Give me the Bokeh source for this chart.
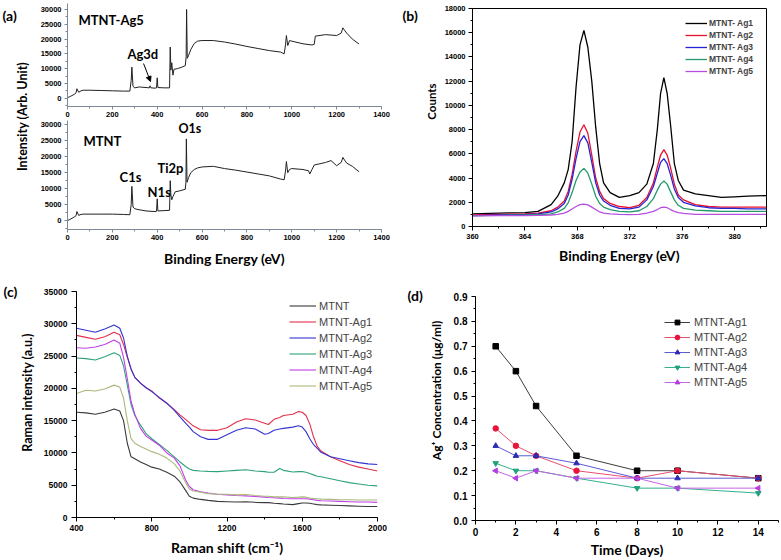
import math
from bokeh.plotting import figure
from bokeh.models import (Range1d, Label, Arrow, NormalHead, Legend, LegendItem,
                          SingleIntervalTicker, PrintfTickFormatter)
from bokeh.layouts import row, column
from bokeh.embed import file_html
from bokeh.resources import INLINE

# ---------------- data ----------------
# (a) XPS survey spectra
a_top_x = [0, 10, 20, 30, 38, 42, 50, 60, 70, 100, 150, 200, 250, 278, 284, 287, 292, 300, 320, 350,
           365, 368, 372, 390, 397, 400, 403, 430, 455, 458, 461, 465, 470, 475, 490, 510, 525, 529, 531, 534,
           540, 550, 565, 580, 600, 650, 700, 750, 800, 850, 900, 950, 966, 972, 976, 982, 990, 1000, 1050, 1090,
           1100, 1105, 1150, 1200, 1220, 1228, 1232, 1245, 1270, 1300]
a_top_y = [200, 500, 900, 1300, 1800, 3200, 2000, 2500, 2700, 2700, 2600, 2500, 2400, 2400, 6000, 10500, 4000, 3500, 3800, 3600,
           3500, 4200, 3500, 3400, 3500, 6900, 3600, 3500, 3500, 17300, 9500, 12000, 7800, 9800, 10000, 10500, 11000, 14000, 30000, 13500,
           14500, 16500, 18500, 19300, 19500, 19500, 19000, 18300, 17500, 16800, 16100, 15600, 15000, 18000, 21200, 17800, 19500, 19300, 18400, 18000,
           18200, 21000, 21500, 21200, 22000, 23800, 23300, 22000, 20000, 18300]
a_bot_x = [0, 10, 20, 30, 38, 42, 50, 60, 70, 100, 150, 200, 250, 278, 284, 287, 292, 300, 310, 350,
           390, 397, 400, 403, 430, 455, 458, 461, 465, 470, 480, 500, 525, 528, 530, 533, 540, 550, 565, 580,
           600, 650, 700, 750, 800, 850, 900, 950, 966, 972, 976, 982, 990, 1000, 1050, 1075, 1080, 1090, 1100, 1150,
           1175, 1200, 1220, 1228, 1232, 1245, 1270, 1300]
a_bot_y = [0, 300, 700, 1100, 1500, 2800, 1600, 1900, 2000, 2000, 2000, 2000, 1900, 1800, 5000, 10700, 4200, 3700, 3500, 3000,
           2800, 2900, 6800, 3000, 3100, 3200, 12500, 8000, 6500, 7500, 9000, 9300, 9800, 12000, 25600, 12000, 13500, 15000, 16000, 16500,
           16800, 17000, 16300, 15800, 15200, 14600, 14000, 13000, 12800, 15500, 18500, 15000, 16000, 16300, 16000, 15600, 14600, 16000, 17400, 18200,
           18800, 17200, 18200, 19800, 19300, 18000, 17000, 15300]

# (b) Ag3d high-resolution spectra
b_x = [360, 362, 364, 365, 366, 366.5, 367, 367.3, 367.6, 367.9, 368.2, 368.5, 368.8, 369.1, 369.4, 369.7, 370.0, 370.5,
       371.2, 372.0, 372.7, 373.3, 373.8, 374.1, 374.35, 374.6, 374.85, 375.1, 375.4, 375.7, 376.1, 377.0, 378.0, 379.0,
       380.0, 381.0, 382.4]
b_names = ["MTNT- Ag1", "MTNT- Ag2", "MTNT- Ag3", "MTNT- Ag4", "MTNT- Ag5"]
b_ag1 = [1050, 1100, 1150, 1250, 1800, 2500, 3600, 4700, 7000, 11500, 15000, 16200, 14800, 12000, 8200, 5200, 3600, 2800,
         2400, 2550, 2800, 3500, 5200, 8000, 11000, 12300, 11000, 8500, 5200, 3800, 3000, 2700, 2550, 2400, 2450, 2500, 2550]
b_ag2 = [950, 1000, 1050, 1100, 1300, 1600, 2100, 2900, 4300, 6200, 7800, 8400, 7700, 5900, 4000, 2900, 2300, 1900,
         1650, 1550, 1750, 2400, 3600, 4900, 5900, 6350, 5900, 4900, 3500, 2600, 2200, 1800, 1650, 1600, 1600, 1600, 1600]
b_ag3 = [900, 950, 1000, 1050, 1200, 1450, 1900, 2600, 3900, 5600, 7000, 7500, 6900, 5300, 3600, 2600, 2100, 1750,
         1500, 1450, 1600, 2200, 3300, 4400, 5300, 5600, 5200, 4300, 3100, 2400, 2000, 1700, 1550, 1500, 1500, 1450, 1450]
b_ag4 = [900, 920, 950, 970, 1050, 1200, 1500, 1950, 2800, 3800, 4500, 4800, 4400, 3500, 2500, 1900, 1600, 1400,
         1250, 1200, 1300, 1650, 2300, 3000, 3500, 3750, 3500, 2900, 2200, 1750, 1500, 1350, 1300, 1250, 1250, 1250, 1250]
b_ag5 = [880, 900, 900, 920, 950, 1000, 1100, 1250, 1450, 1650, 1800, 1850, 1780, 1600, 1400, 1200, 1100, 1050,
         1000, 980, 1000, 1100, 1250, 1400, 1550, 1600, 1550, 1400, 1250, 1150, 1080, 1000, 1000, 1000, 1000, 1000, 1000]

# (c) Raman spectra
c_x = [400, 450, 500, 550, 600, 630, 650, 670, 690, 710, 740, 770, 800, 840, 880, 920, 950, 980, 1000, 1020,
       1060, 1100, 1150, 1200, 1250, 1300, 1350, 1400, 1420, 1450, 1480, 1500, 1550, 1580, 1600, 1620, 1640, 1660,
       1680, 1700, 1750, 1800, 1850, 1900, 1950, 2000]
c_names = ["MTNT", "MTNT-Ag1", "MTNT-Ag2", "MTNT-Ag3", "MTNT-Ag4", "MTNT-Ag5"]
c_mtnt = [16300, 16200, 16000, 16300, 16800, 16500, 15000, 11500, 9400, 9100, 8600, 8200, 7800, 7500, 7000, 6400, 5500, 4200, 3300, 3000,
          2800, 2650, 2500, 2450, 2400, 2450, 2350, 2300, 2300, 2200, 2150, 2100, 2000, 2150, 2250, 2250, 2200, 2100,
          2000, 1950, 1900, 1850, 1800, 1750, 1700, 1700]
c_ag1 = [28200, 27900, 27600, 28000, 28700, 28300, 26800, 24800, 23000, 21700, 20800, 20100, 19600, 18500, 17700, 16700, 15900, 15200, 14700, 14200,
         13600, 13500, 13500, 13900, 14800, 15300, 15100, 14600, 14400, 15200, 15500, 15800, 16000, 16400, 16300, 15800, 14500, 12500,
         11000, 10300, 9400, 8800, 8200, 7800, 7500, 7200]
c_ag2 = [29300, 29000, 28700, 29200, 29800, 29300, 27800, 25000, 23000, 21700, 20800, 20100, 19500, 18600, 17700, 16600, 15600, 14600, 14000, 13300,
         12500, 12100, 12100, 12800, 13500, 13900, 13700, 12900, 13000, 13500, 13700, 13800, 14000, 14200, 14000, 13300, 12200, 11300,
         10700, 10100, 9400, 9100, 8800, 8500, 8300, 8200]
c_ag3 = [24700, 24600, 24400, 24900, 25500, 25100, 23500, 20500, 17500, 15800, 14300, 13000, 12200, 11300, 10400, 9400, 8600, 7900, 7500, 7300,
         7200, 7150, 7100, 7200, 7300, 7400, 7200, 7100, 7000, 7000, 7600, 7300, 7050, 7100, 7100, 7000, 6800, 6600,
         6400, 6300, 6000, 5700, 5400, 5200, 5000, 4900]
c_ag4 = [26300, 26200, 26400, 26800, 27500, 27000, 24800, 21500, 18000, 16000, 13800, 12600, 12000, 11200, 10000, 9200, 8000, 5800, 4800, 4300,
         4000, 3800, 3600, 3500, 3400, 3350, 3250, 3150, 3100, 3050, 3000, 2950, 2900, 2900, 2900, 2900, 2850, 2750,
         2650, 2600, 2550, 2500, 2450, 2400, 2400, 2350]
c_ag5 = [19200, 19700, 19600, 19900, 20500, 20200, 18500, 15000, 12200, 11500, 11000, 10600, 10200, 9800, 9200, 8300, 7200, 5400, 4400, 4100,
         3900, 3700, 3600, 3600, 3500, 3550, 3400, 3300, 3300, 3200, 3200, 3200, 3100, 3150, 3200, 3150, 3000, 2950,
         2900, 2850, 2800, 2750, 2750, 2700, 2700, 2700]

# (d) Ag+ release
d_days = [1, 2, 3, 5, 8, 10, 14]
d_names = ["MTNT-Ag1", "MTNT-Ag2", "MTNT-Ag3", "MTNT-Ag4", "MTNT-Ag5"]
d_ag1 = [0.70, 0.60, 0.46, 0.26, 0.20, 0.20, 0.17]
d_ag2 = [0.37, 0.30, 0.26, 0.20, 0.17, 0.20, 0.17]
d_ag3 = [0.30, 0.26, 0.26, 0.23, 0.17, 0.17, 0.17]
d_ag4 = [0.23, 0.20, 0.20, 0.17, 0.13, 0.13, 0.11]
d_ag5 = [0.20, 0.17, 0.20, 0.17, 0.17, 0.13, 0.13]

# ---------------- helpers ----------------
TICK_FONT = "Liberation Sans"
TITLE_FONT = "Lato"
LEG_FONT = "Liberation Sans"


def make_fig(w, h, xr, yr, bl, br, bt, bb, axes=True):
    kw = {}
    if not axes:
        kw = dict(x_axis_location=None, y_axis_location=None)
    p = figure(width=w, height=h, x_range=Range1d(*xr), y_range=Range1d(*yr),
               output_backend="svg", toolbar_location=None, title=None,
               min_border_left=bl, min_border_right=br, min_border_top=bt, min_border_bottom=bb, **kw)
    p.frame_align = False
    p.grid.grid_line_color = None
    p.outline_line_color = None
    p.border_fill_color = "white"
    p.background_fill_color = "white"
    return p


def strip(w):
    # blank text-only panel whose data units equal its pixels (y measured from the bottom)
    return make_fig(w, 280, (0, w), (0, 280), 0, 0, 0, 0, axes=False)


def style(ax, interval, nminor, size, color="black", out=4, standoff=3, label=None,
          lsize="14px", lstand=6, fmt=None):
    ax.ticker = SingleIntervalTicker(interval=interval, num_minor_ticks=nminor)
    ax.axis_line_color = color
    ax.major_tick_line_color = color
    ax.minor_tick_line_color = color
    ax.major_tick_out = out
    ax.major_tick_in = 0
    ax.minor_tick_out = 2
    ax.minor_tick_in = 0
    ax.major_label_text_font = TICK_FONT
    ax.major_label_text_font_size = size
    ax.major_label_text_font_style = "bold"
    ax.major_label_text_color = "black"
    ax.major_label_standoff = standoff
    if fmt is not None:
        ax.formatter = fmt
    if label:
        ax.axis_label = label
        ax.axis_label_text_font = TITLE_FONT
        ax.axis_label_text_font_size = lsize
        ax.axis_label_text_font_style = "bold"
        ax.axis_label_text_color = "black"
        ax.axis_label_standoff = lstand


def txt(p, x, y, s, size="11px", align="left", angle=0.0):
    p.add_layout(Label(x=x, y=y, text=s, text_font=TITLE_FONT, text_font_size=size,
                       text_font_style="bold", text_color="black", text_align=align,
                       text_baseline="middle", angle=angle))


def legend(p, items, loc, gw, lh, sp, size, fstyle, standoff):
    leg = Legend(items=items, location=loc, orientation="vertical", glyph_width=gw, glyph_height=lh,
                 label_height=lh, spacing=sp, padding=0, margin=0, border_line_color=None,
                 background_fill_alpha=0, label_text_font=LEG_FONT, label_text_font_size=size,
                 label_text_font_style=fstyle, label_standoff=standoff)
    p.add_layout(leg)


# ---------------- (a) ----------------
AX_A = "#7d8a96"
sa = strip(30)
txt(sa, 2, 265, "(a)", size="14px")
txt(sa, 22, 164, "Intensity (Arb. Unit)", size="12.5px", align="center", angle=math.pi / 2)

pa1 = make_fig(360, 120, (0, 1400), (-2807, 32029), 37, 9, 3, 14)
pa1.line(a_top_x, a_top_y, line_color="#222222", line_width=1)
style(pa1.xaxis[0], 200, 2, "7.5px", color=AX_A, out=3, standoff=2)
style(pa1.yaxis[0], 5000, 2, "7.5px", color=AX_A, out=3, standoff=3)
txt(pa1, 49, 26616, "MTNT-Ag5", size="13px")
txt(pa1, 267, 15118, "Ag3d", size="13px")
pa1.add_layout(Arrow(end=NormalHead(size=5, fill_color="black", line_color="black"),
                     x_start=339, y_start=11736, x_end=370, y_end=5648,
                     line_color="black", line_width=1))

pa2 = make_fig(360, 160, (0, 1400), (-2824, 31380), 37, 9, 0, 51)
pa2.line(a_bot_x, a_bot_y, line_color="#222222", line_width=1)
style(pa2.xaxis[0], 200, 2, "7.5px", color=AX_A, out=3, standoff=2,
      label="Binding Energy (eV)", lsize="14px", lstand=7)
style(pa2.yaxis[0], 5000, 2, "7.5px", color=AX_A, out=3, standoff=3)
txt(pa2, 71, 25104, "MTNT", size="13px")
txt(pa2, 232, 13494, "C1s", size="13px")
txt(pa2, 357, 9100, "N1s", size="13px")
txt(pa2, 401, 16475, "Ti2p", size="13px")
txt(pa2, 495, 29000, "O1s", size="12.5px")

# ---------------- (b) ----------------
sb = strip(50)
txt(sb, 12, 265, "(b)", size="14px")
txt(sb, 41, 179, "Counts", size="11.5px", align="center", angle=math.pi / 2)

pb = make_fig(341, 280, (360, 382.43), (0, 18000), 32, 15, 8, 54)
pb.outline_line_color = "black"
pb.outline_line_width = 1
b_cols = ["#000000", "#e8102c", "#2424d6", "#23996c", "#b64ee0"]
b_series = [b_ag1, b_ag2, b_ag3, b_ag4, b_ag5]
b_items = []
for nm, ys, col in zip(b_names, b_series, b_cols):
    r = pb.line(b_x, ys, line_color=col, line_width=1.3)
    b_items.append(LegendItem(label=nm, renderers=[r]))
style(pb.xaxis[0], 4, 2, "7.5px", out=4, standoff=3, label="Binding Energy (eV)", lsize="14px", lstand=5)
style(pb.yaxis[0], 2000, 2, "7.5px", out=4, standoff=3)
legend(pb, b_items, (213, 150), 22, 10, 2, "8.5px", "bold", 2)

# ---------------- (c) ----------------
sc = strip(40)
txt(sc, 3, 269.5, "(c)", size="14px")
txt(sc, 27, 168, "Raman intensity (a.u.)", size="12.5px", align="center", angle=math.pi / 2)

pc = make_fig(350, 280, (400, 2000), (0, 35000), 32, 13, 11, 43)
c_cols = ["#3a3a3a", "#e2304c", "#3434d2", "#2ea27a", "#c040e8", "#a9b97a"]
c_series = [c_mtnt, c_ag1, c_ag2, c_ag3, c_ag4, c_ag5]
c_items = []
for nm, ys, col in zip(c_names, c_series, c_cols):
    r = pc.line(c_x, ys, line_color=col, line_width=1.1)
    c_items.append(LegendItem(label=nm, renderers=[r]))
style(pc.xaxis[0], 400, 2, "8.5px", out=4, standoff=3, label="Raman shift (cm\u207b\u00b9)", lsize="14px", lstand=5)
style(pc.yaxis[0], 5000, 2, "8.5px", out=5, standoff=4)
legend(pc, c_items, (213, 125), 27, 13, 3, "11px", "normal", 3)

# ---------------- (d) ----------------
sd = strip(60)
txt(sd, 17, 265, "(d)", size="14px")
txt(sd, 46, 170, "Ag\u207a Concentration (\u03bcg/ml)", size="12px", align="center", angle=math.pi / 2)

pd = make_fig(331, 280, (0, 15), (0, 0.9), 25, 3, 16, 39)
d_series = [d_ag1, d_ag2, d_ag3, d_ag4, d_ag5]
d_line_cols = ["#3c3c3c", "#e8506e", "#5a5ad6", "#34b08e", "#c466e6"]
d_mark_cols = ["#000000", "#e8143c", "#2b2bb3", "#1fa37a", "#b23fe0"]
d_markers = ["square", "circle", "triangle", "inverted_triangle", "triangle"]
d_angles = [0, 0, 0, 0, math.pi / 2]
d_items = []
for nm, ys, lc, mc, mk, ang in zip(d_names, d_series, d_line_cols, d_mark_cols, d_markers, d_angles):
    r1 = pd.line(d_days, ys, line_color=lc, line_width=1)
    r2 = pd.scatter(d_days, ys, marker=mk, size=5.5, angle=ang, fill_color=mc, line_color=mc)
    d_items.append(LegendItem(label=nm, renderers=[r1, r2]))
style(pd.xaxis[0], 2, 2, "10px", out=4, standoff=3, label="Time (Days)", lsize="14px", lstand=2)
style(pd.yaxis[0], 0.1, 2, "10px", out=4, standoff=4, fmt=PrintfTickFormatter(format="%.1f"))
legend(pd, d_items, (189, 132), 26, 12, 3, "11px", "normal", 4)

layout = column(row(sa, column(pa1, pa2), sb, pb), row(sc, pc, sd, pd))
open("out.html", "w").write(file_html(layout, INLINE))
